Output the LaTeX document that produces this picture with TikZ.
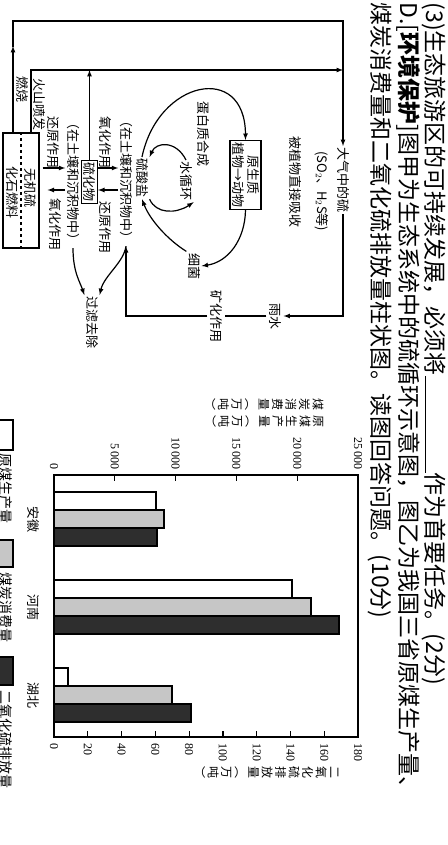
\documentclass[tikz,border=0pt]{standalone}
\usepackage{fontspec}
\setmainfont{Liberation Serif}
\newfontfamily\cjk{Noto Sans CJK SC}
\usetikzlibrary{arrows}
\tikzset{
  lbl/.style = {rotate=-90, inner sep=1pt, font=\cjk\fontsize{13}{15}\selectfont},
  hdr/.style = {rotate=-90, inner sep=0pt, font=\cjk\fontsize{23}{27}\selectfont},
  lbl_box/.style = {lbl, draw, line width=1.2pt, align=center, inner sep=2pt},
  on_line/.style = {lbl, fill=white, inner sep=2pt},
  tick_lbl/.style = {rotate=-90, inner sep=1pt, font=\fontsize{12}{12}\selectfont},
  vstack/.style = {rotate=-90, inner sep=0pt, align=center,
    font=\cjk\fontsize{12}{13.5}\selectfont},
  leg_lbl/.style = {rotate=-90, inner sep=0pt, font=\cjk\fontsize{14}{16}\selectfont},
  bar_p/.style = {draw, line width=1.1pt, fill=white},% 原煤生产量
  bar_c/.style = {draw, line width=1.1pt, fill=gray!45},% 煤炭消费量
  bar_s/.style = {draw, line width=1.1pt, fill=black!82}% 二氧化硫排放量
}
\begin{document}
\begin{tikzpicture}[x=1pt, y=-1pt, line width=1.2pt, >=latex]
\useasboundingbox (0,0) rectangle (447,845);

% question text
\node [hdr, anchor=west] (q3) at (434,2) {(3)生态旅游区的可持续发展，必须将\underline{\hspace{97pt}}作为首要任务。(2分)};
\node [hdr, anchor=west] (qd) at (408,2) {D.[{\bfseries 环境保护}]图甲为生态系统中的硫循环示意图，图乙为我国三省原煤生产量、};
\node [hdr, anchor=west] (qe) at (380,2) {煤炭消费量和二氧化硫排放量柱状图。读图回答问题。(10分)};

% fig. A: sulphur cycle
\coordinate (x13) at (13,0);
\coordinate (x31) at (31,0);
\coordinate (y70) at (0,70);
\coordinate (y168) at (0,168);
\coordinate (y190) at (0,190);

\node [lbl, anchor=west] (dqs) at (343,146) {大气中的硫};
\node [lbl, anchor=west] (so2) at (322,150) {(SO$_2$、H$_2$S等)};
\node [lbl, anchor=west] (xs) at (295,135) {被植物直接吸收};
\node [lbl_box] (ysz) at (245.5,175) {原生质\\植物→动物};
\node [lbl, anchor=west] (dbz) at (203,100) {蛋白质合成};
\node [lbl, anchor=west] (sxh) at (186,160) {水循环};
\node [lbl, anchor=west] (lsy) at (142,157) {硫酸盐};
\node [lbl] (xj) at (194,266) {细菌};
\node [lbl, anchor=west] (ann1) at (126,113) {（在土壤和沉积物中）};
\node [lbl, anchor=west] (yh1) at (105,115) {氧化作用};
\node [lbl, anchor=west] (hy1) at (105,200) {还原作用};
\node [lbl_box] (lhw) at (89.5,182) {硫化物};
\node [lbl, anchor=west] (ann2) at (73,115) {（在土壤和沉积物中）};
\node [lbl, anchor=west] (hy2) at (53,115) {还原作用};
\node [lbl, anchor=west] (yh2) at (55,197) {氧化作用};
\node [lbl, anchor=west] (glqc) at (92,295) {过滤去除};
\node [draw, rotate=-90, minimum width=115pt, minimum height=36pt,
  inner sep=0pt] (wjl) at (21,190.5) {};
\draw [dashed] (wjl.west) -- (wjl.east);
\node [lbl] (wjls) at (30,188) {无机硫};
\node [lbl] (hsrl) at (12,193) {化石燃料};
\node [lbl, anchor=west] (rs) at (22,75) {燃烧};
\node [lbl, anchor=west] (hs) at (39,77) {火山喷发};
\node [on_line] (ys) at (275,316) {雨水};
\node [on_line] (kh) at (216,316) {矿化作用};

\draw [->] (x13 |- wjl.west) -- (13,46);
\draw [->] (13,47) -- (13,21) -| (dqs.west);
\draw [->] (x31 |- wjl.west) |- (343,70);
\draw [->] (lhw.west) -- (lhw.west |- y70);
\draw [->] (dqs.east) |- (ys.north);
\draw (ys.south) -- (kh.north);
\draw [->] (kh.south) -| (ann1.east);
\draw [->] (lhw.north |- y168) -- (ann1.south |- y168);
\draw [->] (ann1.south |- y190) -- (lhw.north |- y190);
\draw [->, shorten <=3pt] (wjl.north |- y168) -- (ann2.south |- y168);
\draw [->, shorten >=8pt] (ann2.south |- y190) -- (wjl.north |- y190);
\draw [->] (ann2.east) .. controls (73,272) and (80,282) .. (glqc.south west);
\draw [->] (ann1.east) .. controls (124,262) and (104,276) .. (glqc.north west);
\draw [->] (lsy.west) .. controls (158,80) and (245,62) .. (ysz.west);
\draw [->] (ysz.east) .. controls (245,240) and (228,262) .. (xj.north);
\draw [->] (xj.south west) .. controls (168,240) and (150,220) .. (lsy.east);
\draw [->] (sxh.west) .. controls (176,140) and (156,142) .. (lsy.north west);
\draw [->] (lsy.north east) .. controls (156,214) and (176,214) .. (sxh.north east);

% fig. B: bar chart
\node [vstack, anchor=north] (ttl_c) at (324,404) {煤\\炭\\消\\费\\量\\︵\\万\\吨\\︶};
\node [vstack, anchor=north] (ttl_p) at (324,421) {原\\煤\\生\\产\\量\\︵\\万\\吨\\︶};
\node [vstack, anchor=north] (ttl_s) at (339,772) {二\\氧\\化\\硫\\排\\放\\量\\︵\\万\\吨\\︶};

\foreach \y/\p/\c/\s/\n in {492/156/164/157/安徽, 580/292/311/339/河南, 668/68/172/191/湖北}{
  \draw [bar_p] (54,\y) rectangle (\p,\y+18);
  \draw [bar_c] (54,\y+18) rectangle (\c,\y+36);
  \draw [bar_s] (54,\y+36) rectangle (\s,\y+54);
  \node [lbl] (cat\y) at (33,\y+27) {\n};
}
\draw (54,475) rectangle (358,737);
\foreach \v/\t in {0/0, 5/5\,000, 10/10\,000, 15/15\,000, 20/20\,000, 25/25\,000}{
  \draw ({54+\v*12.16},475) -- ({54+\v*12.16},481);
  \node [tick_lbl, anchor=east] (tc\v) at ({54+\v*12.16},471) {\t};
}
\foreach \v in {0,20,...,180}{
  \draw ({54+\v*1.689},737) -- ({54+\v*1.689},731);
  \node [tick_lbl, anchor=west] (ts\v) at ({54+\v*1.689},742) {\v};
}

% legend
\draw [bar_p] (-5,420) rectangle (13,450);
\node [leg_lbl, anchor=west] (lg_p) at (6,453) {原煤生产量};
\draw [bar_c] (-5,540) rectangle (13,567);
\node [leg_lbl, anchor=west] (lg_c) at (6,572) {煤炭消费量};
\draw [bar_s] (-5,657) rectangle (13,685);
\node [leg_lbl, anchor=west] (lg_s) at (6,690) {二氧化硫排放量};
\end{tikzpicture}
\end{document}
